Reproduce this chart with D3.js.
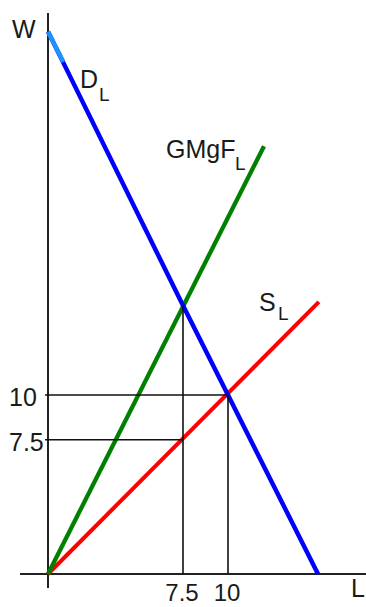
<!DOCTYPE html>
<html>
<head>
<meta charset="utf-8">
<script src="https://cdn.jsdelivr.net/npm/d3@7/dist/d3.min.js"></script>
<style>
  html, body { margin: 0; padding: 0; background: #fff; }
  svg { display: block; }
  text { font-family: "Liberation Sans", Arial, sans-serif; fill: #1a1a1a; }
</style>
</head>
<body>
<script>
// ---- data ----
const tickValues = [7.5, 10];
const tickLabels = ["7.5", "10"];

const demandL = [0, 7.5, 10, 15];
const demandW = [30.3, 15, 10, 0];
const demandTopL = [0, 0.85];
const demandTopW = [30.3, 28.6];

const supplyL = [0, 15.05];
const supplyW = [0, 15.2];

const gmgfL = [0, 12];
const gmgfW = [0, 23.9];

// equilibrium guides: vertical at L up to W, horizontal at W out to L
const guideVL = [7.5, 10];
const guideVW = [15, 10];
const guideHW = [10, 7.5];
const guideHL = [10, 7.5];

// ---- drawing ----
const W = 366, H = 607;
const svg = d3.select("body").append("svg").attr("width", W).attr("height", H);

const x = d3.scaleLinear().domain([0, 10]).range([48, 228]);
const y = d3.scaleLinear().domain([0, 10]).range([574, 395]);

const line = d3.line().x(d => x(d[0])).y(d => y(d[1]));
const zip = (a, b) => a.map((v, i) => [v, b[i]]);

// axes
svg.append("line").attr("x1", x(0)).attr("x2", x(0)).attr("y1", 13).attr("y2", 588)
  .attr("stroke", "#222").attr("stroke-width", 2);
svg.append("line").attr("x1", 20).attr("x2", W).attr("y1", y(0)).attr("y2", y(0))
  .attr("stroke", "#222").attr("stroke-width", 2);

// curves
function curve(data, color, w) {
  svg.append("path").attr("d", line(data)).attr("fill", "none")
    .attr("stroke", color).attr("stroke-width", w).attr("stroke-linejoin", "round");
}
curve(zip(supplyL, supplyW), "#ff0000", 4);
curve(zip(gmgfL, gmgfW), "#008000", 4.3);
curve(zip(demandL, demandW), "#0000ff", 4.5);
curve(zip(demandTopL, demandTopW), "#1e90ff", 4.5);

// guides
guideVL.forEach((l, i) => {
  svg.append("line").attr("x1", x(l)).attr("x2", x(l)).attr("y1", y(0)).attr("y2", y(guideVW[i]))
    .attr("stroke", "#111").attr("stroke-width", 1.6);
});
guideHW.forEach((w, i) => {
  svg.append("line").attr("x1", x(0) - 3).attr("x2", x(guideHL[i])).attr("y1", y(w)).attr("y2", y(w))
    .attr("stroke", "#111").attr("stroke-width", 1.6);
});

// tick labels
tickValues.forEach((v, i) => {
  svg.append("text").attr("x", x(v) - 1).attr("y", 601).attr("text-anchor", "middle")
    .attr("font-size", 24).text(tickLabels[i]);
  svg.append("text").attr("x", 9).attr("y", y(v) + 11).attr("text-anchor", "start")
    .attr("font-size", 25).text(tickLabels[i]);
});

// axis titles
svg.append("text").attr("x", 12).attr("y", 38).attr("font-size", 25).text("W");
svg.append("text").attr("x", 351).attr("y", 597).attr("font-size", 25).text("L");

// curve labels with subscripts
function label(main, sub, xm, ym, xs, ys) {
  svg.append("text").attr("x", xm).attr("y", ym).attr("font-size", 25).text(main);
  svg.append("text").attr("x", xs).attr("y", ys).attr("font-size", 19).text(sub);
}
label("D", "L", 80, 88, 99, 101);
label("GMgF", "L", 166, 158, 235, 170);
label("S", "L", 259, 311, 278, 320);
</script>
</body>
</html>
